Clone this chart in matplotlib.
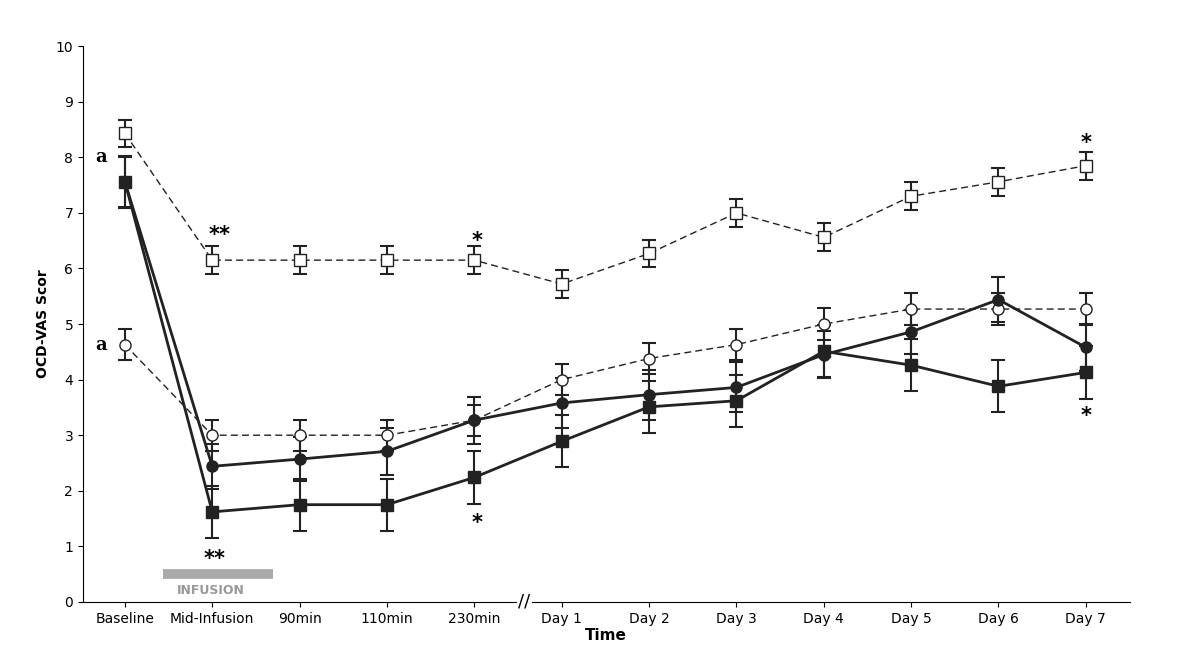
import matplotlib.pyplot as plt

times = ['Baseline', 'Mid-Infusion', '90min', '110min', '230min', 'Day 1',
         'Day 2', 'Day 3', 'Day 4', 'Day 5', 'Day 6', 'Day 7']
open_sq = [8.43, 6.15, 6.15, 6.15, 6.15, 5.72, 6.27, 7.0, 6.56, 7.3, 7.56, 7.85]
open_sq_err = [0.25] * 12
open_ci = [4.63, 3.0, 3.0, 3.0, 3.27, 4.0, 4.38, 4.63, 5.0, 5.27, 5.27, 5.27]
open_ci_err = [0.28] * 12
fill_ci = [7.56, 2.44, 2.57, 2.71, 3.27, 3.58, 3.73, 3.86, 4.45, 4.86, 5.44, 4.58]
fill_ci_err = [0.45, 0.4, 0.4, 0.42, 0.42, 0.45, 0.45, 0.45, 0.42, 0.4, 0.4, 0.42]
fill_sq = [7.56, 1.62, 1.75, 1.75, 2.24, 2.89, 3.51, 3.62, 4.51, 4.26, 3.88, 4.13]
fill_sq_err = [0.47] * 12

x = list(range(len(times)))
c = '#222222'

fig = plt.figure(figsize=(11.92, 6.6), dpi=100)
ax = fig.add_axes([0.0696, 0.088, 0.878, 0.842])

kw = dict(color=c, ecolor=c, capsize=5, elinewidth=1.5, capthick=1.5, markersize=8)
ax.errorbar(x, open_sq, yerr=open_sq_err, fmt='s--', mfc='white', mec=c, lw=1, dashes=(5, 3), **kw)
ax.errorbar(x, open_ci, yerr=open_ci_err, fmt='o--', mfc='white', mec=c, lw=1, dashes=(5, 3), **kw)
ax.errorbar(x, fill_ci, yerr=fill_ci_err, fmt='o-', lw=2, **kw)
ax.errorbar(x, fill_sq, yerr=fill_sq_err, fmt='s-', lw=2, **kw)

ax.set_xlim(-0.48, 11.5)
ax.set_ylim(0, 10)
ax.set_yticks(range(11))
ax.set_xticks(x)
ax.set_xticklabels(times, fontsize=10)
ax.tick_params(labelsize=10, direction='out')
for s in ['top', 'right']:
    ax.spines[s].set_visible(False)
ax.set_ylabel('OCD-VAS Scor', fontsize=10, fontweight='bold')
ax.set_xlabel('Time', fontsize=11, fontweight='bold', labelpad=2)

# axis break
ax.text(4.57, 0, '//', fontsize=13, ha='center', va='center', clip_on=False,
        bbox=dict(fc='white', ec='none', pad=1))

# infusion bar
ax.plot([0.435, 1.70], [0.5, 0.5], color='#aaaaaa', lw=7, solid_capstyle='butt', clip_on=False)
ax.text(0.98, 0.2, 'INFUSION', color='#999999', fontsize=9, fontweight='bold', ha='center', va='center')

# annotations
sf = dict(family='DejaVu Serif', fontweight='bold', fontsize=13, ha='center', va='center')
ax.text(-0.27, 8.0, 'a', **sf)
ax.text(-0.27, 4.63, 'a', **sf)
st = dict(fontsize=15, fontweight='bold', ha='center', va='center')
ax.text(1.08, 6.6, '**', **st)
ax.text(1.03, 0.78, '**', **st)
ax.text(4.03, 6.5, '*', **st)
ax.text(4.03, 1.42, '*', **st)
ax.text(11.0, 8.25, '*', **st)
ax.text(11.0, 3.35, '*', **st)

fig.savefig('out.png', dpi=100)
